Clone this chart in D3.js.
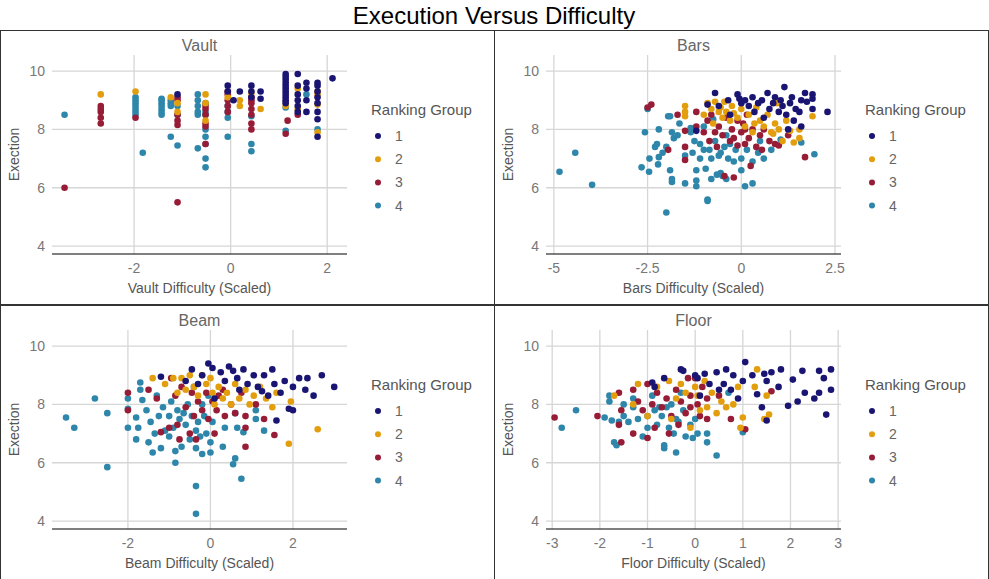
<!DOCTYPE html>
<html><head><meta charset="utf-8">
<script src="https://cdn.jsdelivr.net/npm/d3@7"></script>
<style>body{margin:0;background:#fff}text{font-family:"Liberation Sans",Arial,sans-serif}</style>
</head><body><svg id="c" width="989" height="579"></svg>
<script>
const groups = ["1","2","3","4"];
const colors = ["#1a1572","#e39e0e","#971c36","#2e86ab"];
const yTicks = [4,6,8,10];
const panelNames = ["Vault","Bars","Beam","Floor"];
const xTicksVault = [-2,0,2], xTicksBars = [-5,-2.5,0,2.5], xTicksBeam = [-2,0,2], xTicksFloor = [-3,-2,-1,0,1,2,3];

function col(x, ys){ return ys.map(y=>[x,y]); }
const vault4 = [[-3.44,8.5],...col(-1.97,[8.5,8.6,8.7,8.8,8.9,9.0,9.1]),[-1.82,7.2],...col(-1.43,[8.5,8.6,8.7,8.8,8.9,9.0,9.05]),...col(-1.24,[7.75,8.8,8.9,9.0]),...col(-1.1,[7.45,8.8,8.5]),...col(-0.68,[7.35,8.5,8.6,8.8,9.0,9.2]),...col(-0.52,[6.7,7.0,7.5,7.75,8.0,8.5,8.6,8.9]),...col(-0.06,[7.75,8.4,8.6,8.8]),...col(0.43,[7.25,7.5,8.45]),...col(1.14,[7.95,8.75]),[1.57,9.2],[1.80,8.0]];
const vault3 = [[-3.44,6.0],...col(-2.69,[8.2,8.4,8.6,8.7,8.8]),[-1.97,8.4],...col(-1.1,[5.5,8.15,8.3,8.5,9.0,9.1]),...col(-0.52,[7.5,8.1,8.2,8.5,8.7,8.8]),...col(-0.06,[8.6,8.8,9.0,9.2,9.3]),...col(0.43,[8.0,8.2,8.5,8.7,8.9,9.0,9.1]),[1.14,7.85],[1.18,8.3],[1.39,8.5]];
const vault2 = [[-2.69,9.2],[-1.97,9.3],[-1.24,9.1],...col(-1.1,[8.6,8.9]),...col(-0.52,[8.3,8.9,9.2]),[-0.06,9.1],...col(0.19,[8.8,9.0]),[0.43,9.25],[0.62,8.7],...col(1.14,[8.8,8.95]),...col(1.39,[8.7,9.4]),...col(1.80,[7.9,8.85,9.2,9.3])];
const vault1 = [[-1.1,9.2],...col(-0.06,[9.5,9.3]),[0.06,9.0],[0.19,9.3],...col(0.43,[9.5,9.3,9.1]),...col(0.62,[9.05,9.3]),...col(1.14,[8.9,9.0,9.1,9.2,9.3,9.4,9.5,9.6,9.7,9.8,9.9]),...col(1.39,[8.6,8.8,9.0,9.2,9.5,9.9]),...col(1.57,[8.6,9.0,9.4,9.6]),...col(1.80,[7.75,8.35,8.6,8.9,9.1,9.3,9.5,9.6]),[2.11,9.75]];

const bars4 = [[-4.85,6.55],[-4.43,7.2],[-3.98,6.1],[-2.66,6.7],[-2.57,7.9],[-2.5,8.7],[-2.46,6.55],[-2.45,7.0],[-2.3,7.4],[-2.25,7.5],[-2.2,8.0],[-2.22,6.8],[-2.2,7.05],[-2.1,7.2],[-2.0,7.4],[-1.95,8.45],[-1.9,8.45],[-1.85,7.9],[-1.9,6.6],[-1.85,6.2],[-1.85,6.3],[-1.8,7.7],[-1.7,7.8],[-1.65,8.2],[-2.0,5.15],[-1.5,6.15],[-1.5,7.1],[-1.35,7.9],[-1.35,8.05],[-1.3,7.2],[-1.25,7.6],[-1.2,6.6],[-1.2,6.25],[-1.2,6.05],[-1.1,7.0],[-1.1,7.5],[-1.0,7.3],[-1.0,8.1],[-0.95,6.65],[-0.9,5.6],[-0.9,5.55],[-0.8,6.3],[-0.85,7.3],[-0.8,7.0],[-0.75,8.35],[-0.7,7.6],[-0.65,6.45],[-0.6,7.1],[-0.55,7.2],[-0.55,6.5],[-0.5,6.4],[-0.45,7.4],[-0.4,6.3],[-0.4,7.8],[-0.35,7.0],[-0.3,7.5],[-0.2,6.9],[0.0,6.6],[0.0,7.0],[0.1,6.05],[0.15,7.3],[0.3,6.15],[0.3,6.9],[0.45,7.2],[0.6,7.0],[0.8,7.3],[1.05,7.65],[1.6,7.55],[1.95,7.15],[0.5,7.6],[-0.15,7.3]];
const bars3 = [[-2.5,8.75],[-2.4,8.85],[-1.95,7.3],[-1.7,8.5],[-1.5,7.4],[-1.5,6.95],[-1.5,7.95],[-1.2,8.6],[-1.2,8.1],[-1.0,7.9],[-0.9,8.3],[-0.85,7.6],[-0.8,8.5],[-0.7,7.9],[-0.6,8.1],[-0.5,7.8],[-0.45,6.4],[-0.4,8.4],[-0.3,7.6],[-0.25,8.0],[-0.2,7.7],[-0.1,8.3],[-0.1,7.45],[0.0,7.9],[0.05,8.2],[0.1,7.5],[0.15,8.5],[0.2,7.7],[0.25,6.75],[0.3,8.0],[0.4,7.4],[0.5,7.8],[0.55,7.3],[0.6,8.0],[0.75,7.6],[0.9,7.5],[1.0,7.45],[1.25,7.8],[1.7,7.05],[-0.2,6.35],[0.1,8.0],[-0.65,7.4]];
const bars2 = [[-1.5,8.8],[-1.5,8.6],[-1.5,8.45],[-1.0,8.5],[-0.9,8.9],[-0.8,8.7],[-0.75,8.2],[-0.7,8.95],[-0.6,8.6],[-0.55,8.75],[-0.5,8.4],[-0.45,8.95],[-0.4,8.6],[-0.3,8.3],[-0.25,8.8],[-0.2,8.55],[-0.1,8.4],[0.0,8.7],[0.1,8.1],[0.2,8.5],[0.3,7.9],[0.35,8.2],[0.4,8.75],[0.5,8.3],[0.6,8.1],[0.7,8.5],[0.8,7.9],[0.85,7.85],[0.9,8.2],[1.0,8.0],[1.1,7.6],[1.2,8.3],[1.3,7.95],[1.4,7.55],[1.55,7.7],[1.55,8.0],[1.9,8.45],[0.95,8.9]];
const bars1 = [[-1.2,7.95],[-0.7,9.25],[-0.9,8.85],[-0.6,8.8],[-0.35,9.0],[-0.1,9.2],[-0.05,9.05],[0.0,8.9],[0.1,9.0],[0.2,8.8],[0.3,9.1],[0.35,8.6],[0.45,8.9],[0.55,9.0],[0.6,8.4],[0.7,9.25],[0.75,8.7],[0.85,8.9],[0.9,9.1],[1.0,8.6],[1.05,9.0],[1.1,8.8],[1.15,9.45],[1.2,8.5],[1.3,8.9],[1.35,9.1],[1.4,8.3],[1.45,8.7],[1.55,8.6],[1.6,9.0],[1.7,9.25],[1.75,8.95],[1.6,8.1],[1.9,9.2],[1.9,9.05],[1.9,8.7],[2.3,8.6],[1.25,8.0],[-0.3,8.5]];

const beam4 = [[-3.5,7.55],[-3.3,7.2],[-2.8,8.2],[-2.5,7.7],[-2.5,5.85],[-2.0,7.85],[-2.0,7.2],[-2.0,8.2],[-1.8,7.55],[-1.8,6.8],[-1.75,7.2],[-1.7,8.75],[-1.7,8.5],[-1.65,8.15],[-1.55,7.8],[-1.5,6.7],[-1.45,7.4],[-1.4,6.35],[-1.35,7.0],[-1.3,8.3],[-1.25,7.6],[-1.2,6.5],[-1.15,7.9],[-1.1,7.1],[-1.0,6.9],[-1.0,7.6],[-0.95,8.1],[-0.9,7.2],[-0.85,6.4],[-0.85,6.0],[-0.8,7.8],[-0.75,7.5],[-0.7,6.55],[-0.65,7.7],[-0.6,7.3],[-0.55,8.0],[-0.5,6.8],[-0.45,7.6],[-0.4,8.6],[-0.35,5.2],[-0.35,4.25],[-0.35,6.5],[-0.35,7.1],[-0.3,7.4],[-0.25,6.9],[-0.2,6.3],[-0.2,8.0],[-0.15,7.6],[-0.1,7.0],[-0.05,8.3],[0.0,6.35],[0.0,6.7],[0.05,7.4],[0.3,6.55],[0.35,7.2],[0.55,5.95],[0.6,6.15],[0.65,7.2],[0.75,5.45],[0.6,7.7],[1.1,7.5],[1.3,7.1],[1.1,7.8],[0.8,7.05]];
const beam3 = [[-2.0,8.4],[-2.0,7.8],[-1.5,8.5],[-1.3,8.2],[-1.2,7.05],[-1.0,7.2],[-0.95,8.9],[-0.85,8.3],[-0.8,7.3],[-0.75,6.8],[-0.7,8.6],[-0.6,7.9],[-0.5,7.0],[-0.45,8.4],[-0.4,7.6],[-0.35,6.8],[-0.3,8.1],[-0.2,7.8],[-0.1,8.4],[-0.05,7.5],[0.05,8.1],[0.1,7.0],[0.15,7.8],[0.3,8.5],[0.35,7.6],[0.5,8.0],[0.6,7.7],[0.75,8.4],[0.85,7.6],[0.85,7.2],[0.85,6.55],[1.1,8.0],[1.3,7.5],[1.55,6.95],[0.2,8.3]];
const beam2 = [[-1.4,8.9],[-1.1,8.7],[-0.9,8.9],[-0.8,8.4],[-0.7,8.9],[-0.6,8.5],[-0.5,9.0],[-0.4,8.6],[-0.3,8.3],[-0.2,9.0],[-0.1,8.7],[0.0,8.9],[0.05,8.4],[0.1,8.0],[0.2,8.6],[0.3,8.2],[0.4,8.4],[0.5,8.0],[0.6,8.7],[0.7,8.2],[0.85,8.5],[0.95,8.0],[1.05,8.3],[1.2,8.6],[1.35,8.2],[1.5,7.9],[1.6,8.4],[1.95,8.1],[1.9,6.65],[2.6,7.15]];
const beam1 = [[-1.2,8.95],[-0.6,8.8],[-0.45,9.2],[-0.3,8.7],[-0.2,9.0],[-0.05,9.4],[0.05,9.25],[0.1,8.2],[0.25,9.1],[0.35,8.8],[0.45,9.3],[0.55,9.15],[0.65,8.9],[0.8,9.2],[0.9,8.7],[1.05,9.0],[1.15,8.6],[1.3,9.0],[1.4,8.3],[1.5,9.2],[1.55,8.7],[1.6,7.45],[1.7,8.4],[1.8,8.8],[1.9,7.85],[2.0,7.8],[2.0,8.6],[2.15,8.9],[2.3,8.5],[2.35,8.9],[2.5,8.3],[2.7,9.0],[3.0,8.6],[0.7,8.5],[1.25,8.45]];

const floor4 = [[-2.8,7.2],[-2.5,7.8],[-1.9,7.55],[-1.8,8.1],[-1.8,8.3],[-1.75,7.45],[-1.7,6.7],[-1.65,6.6],[-1.6,7.4],[-1.5,8.0],[-1.5,7.6],[-1.4,7.4],[-1.3,7.9],[-1.3,8.2],[-1.2,7.5],[-1.1,6.9],[-1.0,7.6],[-1.0,7.2],[-0.9,8.3],[-0.85,7.8],[-0.8,7.3],[-0.7,7.6],[-0.65,6.6],[-0.65,6.5],[-0.6,7.9],[-0.55,7.2],[-0.5,8.0],[-0.45,7.0],[-0.4,6.35],[-0.4,7.5],[-0.3,8.4],[-0.25,7.8],[-0.2,6.9],[-0.1,7.3],[-0.05,6.85],[0.0,7.5],[0.05,7.0],[0.25,6.7],[0.25,7.0],[0.45,6.25],[0.7,8.4],[1.0,7.05],[-0.75,7.9],[-0.35,7.4]];
const floor3 = [[-2.95,7.55],[-2.05,7.6],[-1.6,7.3],[-1.6,8.4],[-1.55,6.7],[-1.55,7.8],[-1.3,7.0],[-1.3,8.5],[-1.2,8.1],[-1.1,7.8],[-1.0,6.85],[-1.0,8.7],[-0.9,8.0],[-0.85,7.2],[-0.8,8.4],[-0.7,7.9],[-0.6,8.2],[-0.55,7.0],[-0.5,7.6],[-0.4,8.5],[-0.35,7.3],[-0.3,8.1],[-0.2,7.7],[-0.15,8.9],[-0.1,8.3],[-0.1,7.9],[0.0,8.9],[0.05,8.0],[0.1,7.6],[0.25,8.2],[0.25,7.5],[0.5,8.3],[0.75,7.5],[1.05,7.15],[1.6,8.45],[0.15,8.6]];
const floor2 = [[-1.7,8.3],[-1.3,8.0],[-1.2,8.7],[-1.0,7.6],[-0.8,8.6],[-0.55,8.8],[-0.5,7.5],[-0.4,8.2],[-0.3,8.7],[-0.2,8.4],[-0.1,7.2],[0.0,8.6],[0.05,8.3],[0.1,7.8],[0.2,8.8],[0.25,7.9],[0.35,8.4],[0.45,7.7],[0.55,8.1],[0.65,7.9],[0.8,8.0],[0.95,7.2],[1.0,7.55],[0.9,8.6],[1.25,8.6],[1.3,9.2],[1.45,7.5],[1.55,7.65],[1.5,8.3]];
const floor1 = [[-0.9,8.75],[-0.85,8.6],[-0.65,8.9],[-0.3,9.2],[-0.25,9.15],[0.0,9.0],[0.05,8.9],[0.1,8.3],[0.2,9.05],[0.3,8.7],[0.45,9.1],[0.5,8.5],[0.6,8.7],[0.65,9.2],[0.75,8.5],[0.8,9.0],[0.9,8.2],[1.0,8.8],[1.05,9.45],[1.2,9.0],[1.3,8.35],[1.4,7.9],[1.45,9.05],[1.5,7.45],[1.5,8.8],[1.6,9.1],[1.75,8.6],[1.8,9.2],[1.95,7.95],[2.05,8.85],[2.15,8.1],[2.25,9.15],[2.3,8.4],[2.5,8.2],[2.6,9.15],[2.6,8.4],[2.7,8.9],[2.75,7.65],[2.85,9.2],[2.85,8.5]];

const panels = [
 {name:"Vault", ox:0, oy:0, xd:[-3.70,2.41], ticks:xTicksVault, data:[vault1,vault2,vault3,vault4]},
 {name:"Bars", ox:494, oy:0, xd:[-5.21,2.66], ticks:xTicksBars, data:[bars1,bars2,bars3,bars4]},
 {name:"Beam", ox:0, oy:275, xd:[-3.84,3.31], ticks:xTicksBeam, data:[beam1,beam2,beam3,beam4]},
 {name:"Floor", ox:494, oy:275, xd:[-3.13,3.06], ticks:xTicksFloor, data:[floor1,floor2,floor3,floor4]}
];
const svg = d3.select("#c");
svg.append("text").attr("x",494).attr("y",24).attr("text-anchor","middle").attr("font-size",24).attr("fill","#000").text("Execution Versus Difficulty");
const L=52,R=347,T=55,B=254;
const y = d3.scaleLinear().domain([3.73,10.55]).range([B,T]);
panels.forEach(p=>{
  const g = svg.append("g").attr("transform",`translate(${p.ox},${p.oy})`);
  g.append("rect").attr("x",0.5).attr("y",30.5).attr("width",494).attr("height",274).attr("fill","none").attr("stroke","#333");
  const x = d3.scaleLinear().domain(p.xd).range([L,R]);
  g.append("text").attr("x",(L+R)/2).attr("y",51).attr("text-anchor","middle").attr("font-size",16).attr("fill","#666").text(p.name);
  yTicks.forEach(t=>{
    g.append("line").attr("x1",L).attr("x2",R).attr("y1",y(t)).attr("y2",y(t)).attr("stroke","#d6d6d6").attr("stroke-width",1.3);
    g.append("text").attr("x",L-7).attr("y",y(t)+5).attr("text-anchor","end").attr("font-size",14).attr("fill","#777").text(t);
  });
  p.ticks.forEach(t=>{
    g.append("line").attr("x1",x(t)).attr("x2",x(t)).attr("y1",T).attr("y2",B).attr("stroke","#d6d6d6").attr("stroke-width",1.3);
    g.append("text").attr("x",x(t)).attr("y",B+19).attr("text-anchor","middle").attr("font-size",14).attr("fill","#777").text(t.toFixed(t%1?1:0));
  });
  g.append("line").attr("x1",L).attr("x2",R).attr("y1",B).attr("y2",B).attr("stroke","#000").attr("stroke-width",1.2);
  g.append("text").attr("x",(L+R)/2).attr("y",B+39).attr("text-anchor","middle").attr("font-size",14).attr("fill","#555").text(p.name+" Difficulty (Scaled)");
  g.append("text").attr("transform",`translate(19,${(T+B)/2}) rotate(-90)`).attr("text-anchor","middle").attr("font-size",14).attr("fill","#555").text("Exection");
  [3,2,1,0].forEach(i=>{
    g.append("g").selectAll("circle").data(p.data[i]).join("circle")
      .attr("cx",d=>x(d[0])).attr("cy",d=>y(d[1])).attr("r",3.3).attr("fill",colors[i]);
  });
  g.append("text").attr("x",371).attr("y",115).attr("font-size",15).attr("fill","#555").text("Ranking Group");
  groups.forEach((gr,i)=>{
    const cy = 136+i*23.2;
    g.append("circle").attr("cx",378).attr("cy",cy).attr("r",3).attr("fill",colors[i]);
    g.append("text").attr("x",395).attr("y",cy+5).attr("font-size",14).attr("fill","#666").text(gr);
  });
});
</script></body></html>
